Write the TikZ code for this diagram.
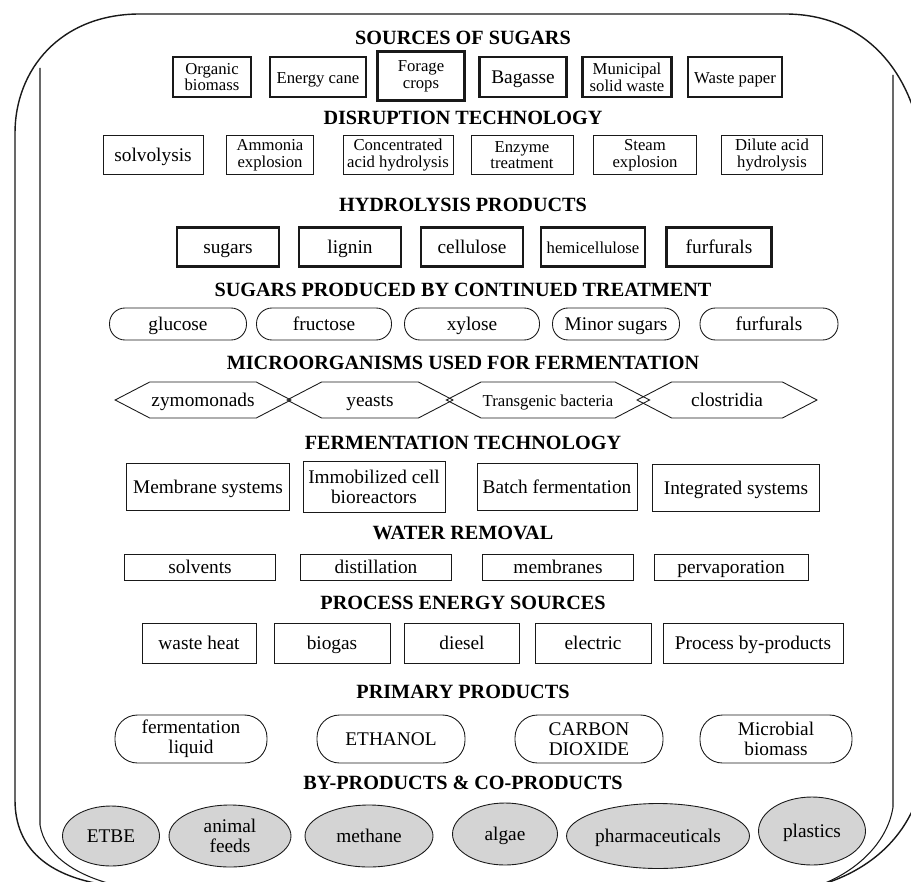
\documentclass[tikz,border=0pt]{standalone}
\usepackage{fontspec}
\setmainfont{Liberation Serif}
\usetikzlibrary{shapes.symbols,shapes.geometric}
\definecolor{encre}{RGB}{25,25,25}
\definecolor{grisfond}{RGB}{212,212,212}
\tikzset{
  titre/.style={font=\fontsize{11.5}{13}\selectfont\bfseries},
  boite/.style={draw=encre,line width=0.5pt,inner sep=1pt,align=center,
    font=\fontsize{11}{11.5}\selectfont,text height=1.8ex,text depth=0.3ex},
  deux/.style={text height={},text depth={}},
  boitegras/.style={boite,line width=1.2pt},
  pilule/.style={boite,rounded corners=0.31cm},
  grandepilule/.style={boite,rounded corners=0.45cm},
  hexa/.style={boite,signal,signal to=west and east,signal pointer angle=55},
  ovale/.style={boite,ellipse,fill=grisfond},
  petit/.style={font=\fontsize{9.5}{9.5}\selectfont}
}
\begin{document}
\begin{tikzpicture}[x=0.02cm,y=-0.02cm]
\useasboundingbox (0,0) rectangle (911,881);
% cadre
\draw[encre,line width=0.8pt] (140,14) -- (785,14)
  .. controls (870,14) and (925,80) .. (925,185) -- (925,750)
  .. controls (925,830) and (870,870) .. (823,884) -- (100,884)
  .. controls (50,875) and (15,850) .. (15,800) -- (15,133)
  .. controls (15,70) and (60,14) .. (140,14) -- cycle;
\draw[encre,line width=0.6pt] (40,68) -- (40,825) .. controls (45,855) and (75,875) .. (115,885);
\draw[encre,line width=0.6pt] (893,75) -- (893,807) .. controls (888,840) and (860,870) .. (820,885);

% sources
\node[titre] (tS) at (463,38) {SOURCES OF SUGARS};
\node[boitegras,petit,deux,minimum width=1.56cm,minimum height=0.8cm] (S1) at (212,77) {Organic\\biomass};
\node[boitegras,petit,minimum width=1.92cm,minimum height=0.8cm] (S2) at (318,77) {Energy cane};
\node[boitegras,petit,deux,minimum width=1.74cm,minimum height=0.98cm] (S3) at (421,76) {Forage\\crops};
\node[boitegras,minimum width=1.74cm,minimum height=0.8cm] (S4) at (523,77) {Bagasse};
\node[boitegras,petit,deux,minimum width=1.78cm,minimum height=0.8cm] (S5) at (627,77) {Municipal\\solid waste};
\node[boitegras,petit,minimum width=1.88cm,minimum height=0.8cm] (S6) at (735,77) {Waste paper};

% disruption
\node[titre] (tD) at (463,118) {DISRUPTION TECHNOLOGY};
\node[boite,minimum width=2.0cm,minimum height=0.78cm] (D1) at (153,155) {solvolysis};
\node[boite,petit,deux,minimum width=1.74cm,minimum height=0.78cm] (D2) at (270,155) {Ammonia\\explosion};
\node[boite,petit,deux,minimum width=2.2cm,minimum height=0.78cm] (D3) at (398,155) {Concentrated\\acid hydrolysis};
\node[boite,petit,deux,minimum width=2.04cm,minimum height=0.78cm] (D4) at (522,155) {Enzyme\\treatment};
\node[boite,petit,deux,minimum width=2.06cm,minimum height=0.78cm] (D5) at (645,155) {Steam\\explosion};
\node[boite,petit,deux,minimum width=2.02cm,minimum height=0.78cm] (D6) at (772,155) {Dilute acid\\hydrolysis};

% hydrolyse
\node[titre] (tH) at (463,205) {HYDROLYSIS PRODUCTS};
\node[boitegras,minimum width=2.04cm,minimum height=0.78cm] (H1) at (228,247) {sugars};
\node[boitegras,minimum width=2.04cm,minimum height=0.78cm] (H2) at (350,247) {lignin};
\node[boitegras,minimum width=2.04cm,minimum height=0.78cm] (H3) at (472,247) {cellulose};
\node[boitegras,petit,minimum width=2.08cm,minimum height=0.78cm] (H4) at (593,247) {hemicellulose};
\node[boitegras,minimum width=2.1cm,minimum height=0.78cm] (H5) at (719,247) {furfurals};

% sucres
\node[titre] (tG) at (463,290) {SUGARS PRODUCED BY CONTINUED TREATMENT};
\node[pilule,minimum width=2.74cm,minimum height=0.64cm] (G1) at (178,324) {glucose};
\node[pilule,minimum width=2.7cm,minimum height=0.64cm] (G2) at (324,324) {fructose};
\node[pilule,minimum width=2.7cm,minimum height=0.64cm] (G3) at (472,324) {xylose};
\node[pilule,minimum width=2.54cm,minimum height=0.64cm] (G4) at (616,324) {Minor sugars};
\node[pilule,minimum width=2.76cm,minimum height=0.64cm] (G5) at (769,324) {furfurals};

% micro-organismes
\node[titre] (tM) at (463,363) {MICROORGANISMS USED FOR FERMENTATION};
\node[hexa,minimum width=3.34cm,minimum height=0.72cm] (M1) at (203,400) {zymomonads};
\node[hexa,minimum width=3.32cm,minimum height=0.72cm] (M2) at (370,400) {yeasts};
\node[hexa,petit,minimum width=3.54cm,minimum height=0.72cm] (M3) at (548,400) {Transgenic bacteria};
\node[hexa,minimum width=3.6cm,minimum height=0.72cm] (M4) at (727,400) {clostridia};

% fermentation
\node[titre] (tF) at (463,443) {FERMENTATION TECHNOLOGY};
\node[boite,minimum width=3.26cm,minimum height=0.94cm] (F1) at (208,487) {Membrane systems};
\node[boite,deux,minimum width=2.84cm,minimum height=1.02cm] (F2) at (374,487) {Immobilized cell\\bioreactors};
\node[boite,minimum width=3.2cm,minimum height=0.94cm] (F3) at (557,487) {Batch fermentation};
\node[boite,minimum width=3.34cm,minimum height=0.94cm] (F4) at (736,488) {Integrated systems};

% eau
\node[titre] (tW) at (463,533) {WATER REMOVAL};
\node[boite,minimum width=3.02cm,minimum height=0.52cm] (W1) at (200,567) {solvents};
\node[boite,minimum width=3.02cm,minimum height=0.52cm] (W2) at (376,567) {distillation};
\node[boite,minimum width=3.02cm,minimum height=0.52cm] (W3) at (558,567) {membranes};
\node[boite,minimum width=3.08cm,minimum height=0.52cm] (W4) at (731,567) {pervaporation};

% energie
\node[titre] (tE) at (463,603) {PROCESS ENERGY SOURCES};
\node[boite,minimum width=2.28cm,minimum height=0.8cm] (E1) at (199,643) {waste heat};
\node[boite,minimum width=2.32cm,minimum height=0.8cm] (E2) at (332,643) {biogas};
\node[boite,minimum width=2.3cm,minimum height=0.8cm] (E3) at (462,643) {diesel};
\node[boite,minimum width=2.32cm,minimum height=0.8cm] (E4) at (593,643) {electric};
\node[boite,minimum width=3.6cm,minimum height=0.8cm] (E5) at (753,643) {Process by-products};

% produits
\node[titre] (tP) at (463,692) {PRIMARY PRODUCTS};
\node[grandepilule,deux,minimum width=3.04cm,minimum height=0.96cm] (P1) at (191,739) {fermentation\\liquid};
\node[grandepilule,minimum width=2.96cm,minimum height=0.96cm] (P2) at (391,739) {ETHANOL};
\node[grandepilule,deux,minimum width=2.96cm,minimum height=0.96cm] (P3) at (589,739) {CARBON\\DIOXIDE};
\node[grandepilule,deux,minimum width=3.04cm,minimum height=0.96cm] (P4) at (776,739) {Microbial\\biomass};

% co-produits
\node[titre] (tB) at (463,783) {BY-PRODUCTS \& CO-PRODUCTS};
\node[ovale,minimum width=1.94cm,minimum height=1.2cm] (B1) at (111,836) {ETBE};
\node[ovale,deux,minimum width=2.44cm,minimum height=1.24cm] (B2) at (230,836) {animal\\feeds};
\node[ovale,minimum width=2.56cm,minimum height=1.24cm] (B3) at (369,836) {methane};
\node[ovale,minimum width=2.1cm,minimum height=1.24cm] (B4) at (505,834) {algae};
\node[ovale,minimum width=3.66cm,minimum height=1.3cm] (B5) at (658,836) {pharmaceuticals};
\node[ovale,minimum width=2.14cm,minimum height=1.36cm] (B6) at (812,831) {plastics};
\end{tikzpicture}
\end{document}
